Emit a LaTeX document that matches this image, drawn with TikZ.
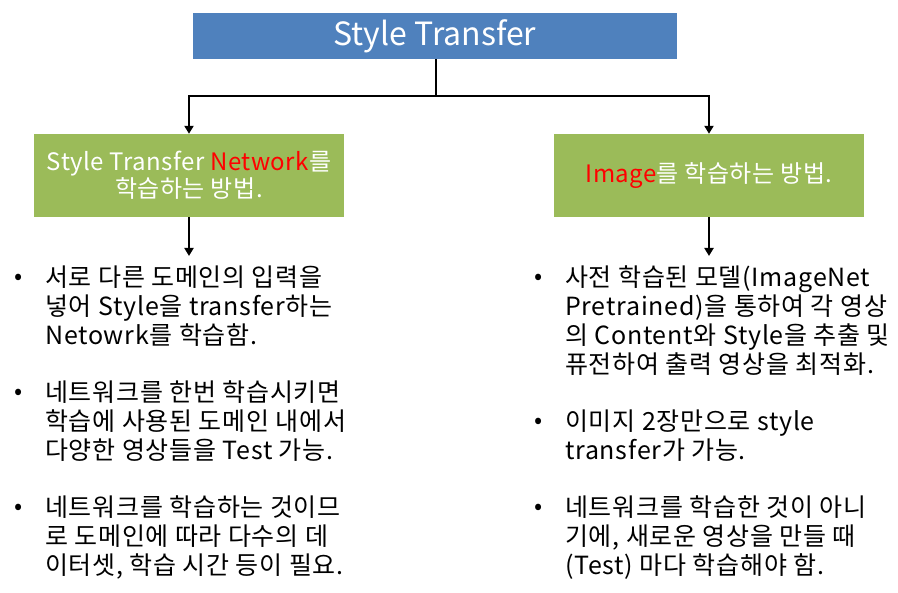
\documentclass[tikz,border=0pt]{standalone}
\usepackage{fontspec}
\setmainfont{Noto Sans CJK KR}
\newfontfamily\bodyfont{Noto Sans CJK KR}[LetterSpace=3]
\newfontfamily\boxfont{Noto Sans CJK KR}[LetterSpace=2]
\usetikzlibrary{arrows.meta}
\definecolor{topblue}{HTML}{4F81BD}
\definecolor{boxgreen}{HTML}{9BBB59}
\definecolor{redtext}{HTML}{FF0000}
\tikzset{
  titlebox/.style={fill=topblue, text=white, minimum width=484pt, minimum height=46pt, inner sep=0pt, font=\fontsize{32}{38}\selectfont},
  greenbox/.style={fill=boxgreen, text=white, minimum width=310pt, minimum height=83pt, inner sep=0pt, align=center, font=\boxfont\fontsize{24}{27}\selectfont},
  conn/.style={line width=2.6pt, black, -{Triangle[length=8pt,width=9pt]}},
  plainconn/.style={line width=2.6pt, black},
  bodytext/.style={anchor=north west, inner sep=0pt, align=left, font=\bodyfont\fontsize{25}{28.7}\selectfont},
  bulletmark/.style={anchor=center, inner sep=0pt, font=\fontsize{24}{28}\selectfont}
}
\begin{document}
\begin{tikzpicture}[x=1pt,y=-1pt]
\useasboundingbox (0,0) rectangle (898,593);
\fill[white] (0,0) rectangle (898,593);

\node[titlebox] (top) at (435,36) {Style Transfer};
\node[greenbox] (left) at (189,175.5) {Style Transfer \textcolor{redtext}{Network}를\\학습하는 방법.};
\node[greenbox] (right) at (709,175.5) {\textcolor{redtext}{Image}를 학습하는 방법.};

\coordinate (split) at (436,96);
\coordinate (lturn) at (189,96);
\coordinate (rturn) at (709,96);
\draw[plainconn] (top.south -| split) -- (split);
\draw[conn] (split) -- (lturn) -- (left.north);
\draw[conn] (split) -- (rturn) -- (right.north);

\coordinate (lend) at (189,256);
\coordinate (rend) at (709,256);
\draw[conn] (left.south) -- (lend);
\draw[conn] (right.south) -- (rend);

% left bullets
\node[bulletmark] (lb1) at (19,279) {•};
\node[bodytext] (lt1) at (45,266) {서로 다른 도메인의 입력을\\넣어 Style을 transfer하는\\Netowrk를 학습함.};
\node[bulletmark] (lb2) at (19,394) {•};
\node[bodytext] (lt2) at (45,381) {네트워크를 한번 학습시키면\\학습에 사용된 도메인 내에서\\다양한 영상들을 Test 가능.};
\node[bulletmark] (lb3) at (19,509) {•};
\node[bodytext] (lt3) at (45,496) {네트워크를 학습하는 것이므\\로 도메인에 따라 다수의 데\\이터셋, 학습 시간 등이 필요.};

% right bullets
\node[bulletmark] (rb1) at (539,279) {•};
\node[bodytext] (rt1) at (565,266) {사전 학습된 모델(ImageNet\\Pretrained)을 통하여 각 영상\\의 Content와 Style을 추출 및\\퓨전하여 출력 영상을 최적화.};
\node[bulletmark] (rb2) at (539,423) {•};
\node[bodytext] (rt2) at (565,410) {이미지 2장만으로 style\\transfer가 가능.};
\node[bulletmark] (rb3) at (539,509) {•};
\node[bodytext] (rt3) at (565,496) {네트워크를 학습한 것이 아니\\기에, 새로운 영상을 만들 때\\(Test) 마다 학습해야 함.};
\end{tikzpicture}
\end{document}
